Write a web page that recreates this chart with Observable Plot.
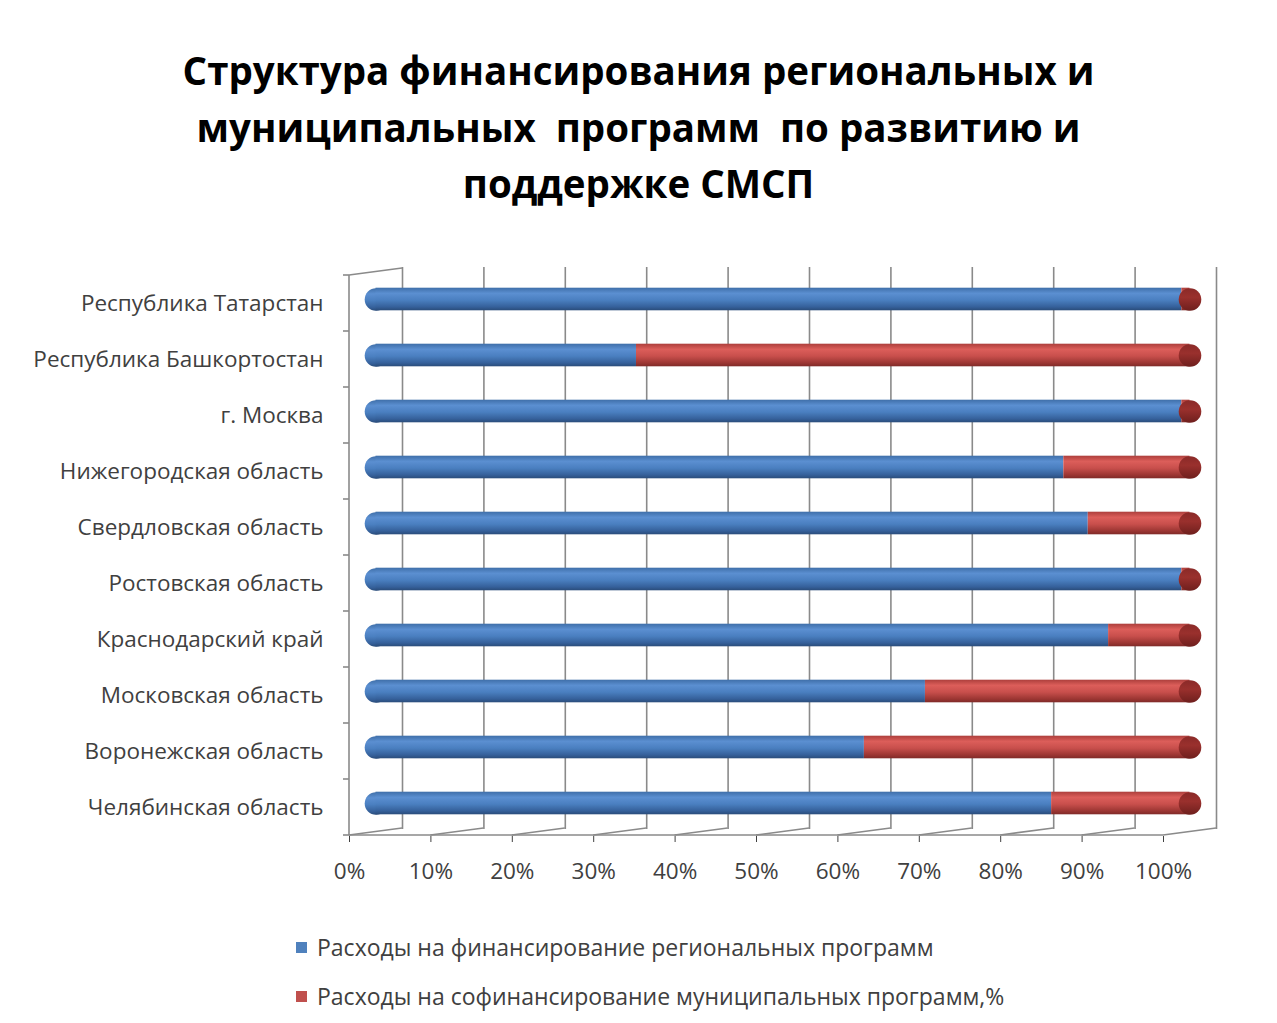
<!DOCTYPE html>
<html><head><meta charset="utf-8">
<script src="https://cdn.jsdelivr.net/npm/d3@7"></script>
<script src="https://cdn.jsdelivr.net/npm/@observablehq/plot@0.6"></script>
<style>
body{margin:0;background:#fff;font-family:"Open Sans",sans-serif;width:1277px;}
#title{height:240px;box-sizing:border-box;padding-top:42px;text-align:center;font-weight:bold;font-size:38.5px;line-height:56.5px;color:#000;}
#chart svg{display:block;overflow:visible;}
#legend{padding-top:3px;padding-left:296px;font-size:23px;line-height:49px;color:#404040;}
#legend .sw{display:inline-block;width:11px;height:11px;margin-right:10px;vertical-align:middle;position:relative;top:-2px;}
</style></head><body>
<div id="title">Структура финансирования региональных и<br>муниципальных&nbsp; программ&nbsp; по развитию и<br>поддержке СМСП</div>
<div id="chart"></div>
<div id="legend"></div>
<script>
const regions = ["Республика Татарстан","Республика Башкортостан","г. Москва","Нижегородская область","Свердловская область","Ростовская область","Краснодарский край","Московская область","Воронежская область","Челябинская область"];
const regionalShare = [99, 32, 99, 84.5, 87.5, 99, 90, 67.5, 60, 83];
const municipalShare = [1, 68, 1, 15.5, 12.5, 1, 10, 32.5, 40, 17];
const seriesNames = ["Расходы на финансирование региональных программ","Расходы на софинансирование муниципальных программ,%"];
const seriesColors = ["#4F81BD","#C0504D"];
const xTicks = [0,0.1,0.2,0.3,0.4,0.5,0.6,0.7,0.8,0.9,1];

const data = regions.flatMap((r,i)=>[
  {region:r, series:seriesNames[0], value:regionalShare[i]/100},
  {region:r, series:seriesNames[1], value:municipalShare[i]/100}
]);

const DX = 53, DY = -7; // 3D depth offset of back wall
const BX = 26.5, BY = -4; // bars at mid depth

const plot = Plot.plot({
  width:1277, height:680,
  marginLeft:349, marginRight:114, marginTop:34, marginBottom:84,
  style:{fontFamily:"Open Sans", fontSize:"22.5px", color:"#404040", background:"transparent", overflow:"visible"},
  x:{domain:[0,1], ticks:xTicks, tickFormat:d=>Math.round(d*100)+"%", tickSize:6, tickPadding:21, label:null},
  y:{domain:regions, padding:0, tickSize:0, tickPadding:26, label:null},
  color:{domain:seriesNames, range:["url(#gBlue)","url(#gRed)"]},
  marks:[
    Plot.ruleX(xTicks, {x:d=>d, dx:DX, dy:DY, stroke:"#8a8a8a", strokeWidth:1.6, strokeOpacity:1}),
    Plot.dot(regions, {x:()=>0, y:d=>d, r:11.3, fill:"url(#gBlue)", dx:BX, dy:BY}),
    Plot.barX(data, Plot.stackX({y:"region", x:"value", fill:"series", order:seriesNames, insetTop:16.7, insetBottom:16.7, dx:BX, dy:BY})),
    Plot.dot(regions, {x:()=>1, y:d=>d, r:11.3, fill:"url(#gCap)", dx:BX, dy:BY})
  ]
});

const svg = d3.select(plot);
const defs = svg.insert("defs", ":first-child");
function grad(id, stops){
  const g = defs.append("linearGradient").attr("id", id).attr("x1",0).attr("y1",0).attr("x2",0).attr("y2",1);
  stops.forEach(([o,c])=>g.append("stop").attr("offset",o).attr("stop-color",c));
}
grad("gBlue", [[0,"#3f6fa9"],[0.25,"#5b8fd1"],[0.55,"#4a7fc0"],[0.85,"#35609a"],[1,"#2a4c7a"]]);
grad("gRed", [[0,"#ad3f3c"],[0.25,"#dc5e5a"],[0.55,"#c84f4c"],[0.85,"#9c3633"],[1,"#7f2a28"]]);
grad("gCap", [[0,"#8a2a28"],[0.4,"#9a302d"],[1,"#6e1f1d"]]);

// 3D frame from the library's scales
const xs = plot.scale("x"), ys = plot.scale("y");
const bw = ys.bandwidth;
const x0 = xs.apply(0), x1 = xs.apply(1);
const yTop = ys.apply(regions[0]);
const yBot = ys.apply(regions[regions.length-1]) + bw;
const frame = svg.append("g").attr("stroke","#8a8a8a").attr("stroke-width",1.6).attr("fill","none");
const line = (a,b,c,d)=>frame.append("line").attr("x1",a).attr("y1",b).attr("x2",c).attr("y2",d);
line(x0, yTop, x0, yBot);
line(x0, yTop, x0+DX, yTop+DY);
line(x0, yBot, x1, yBot);
regions.forEach(r=>{ const y = ys.apply(r); line(x0-6, y, x0, y); });
line(x0-6, yBot, x0, yBot);
xTicks.forEach(t=>{ const x = xs.apply(t); line(x+DX, yBot+DY, x, yBot); });

document.getElementById("chart").appendChild(plot);

const legend = d3.select("#legend");
seriesNames.forEach((s,i)=>{
  const row = legend.append("div");
  row.append("span").attr("class","sw").style("background", seriesColors[i]);
  row.append("span").text(s);
});
</script>
</body></html>
